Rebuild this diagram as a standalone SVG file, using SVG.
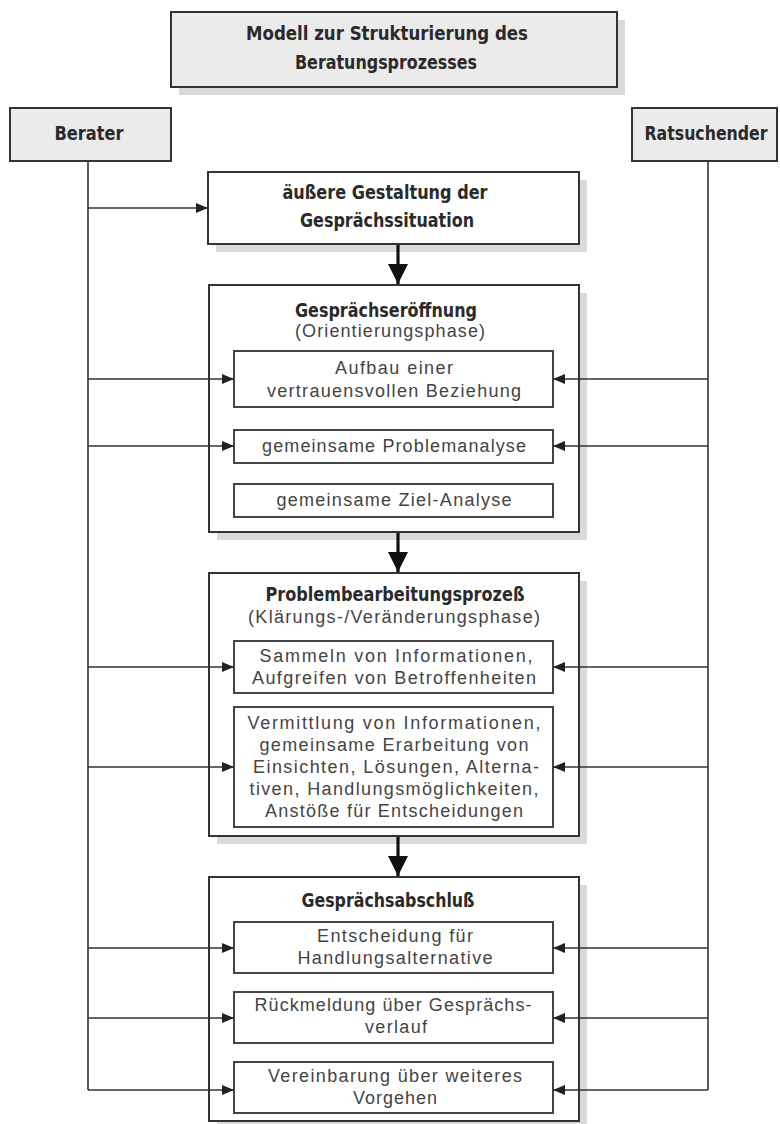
<svg xmlns="http://www.w3.org/2000/svg" width="780" height="1124" viewBox="0 0 780 1124">
<defs>
<style>
.bg{fill:#ffffff}
.shadow{fill:#d9d9d9}
.grey{fill:#ebebeb;stroke:#333;stroke-width:2}
.box{fill:#ffffff;stroke:#333;stroke-width:2}
.inner{fill:#ffffff;stroke:#444;stroke-width:2}
.bold{font-family:"DejaVu Sans Condensed","DejaVu Sans","Liberation Sans",sans-serif;font-weight:bold;font-size:19px;fill:#2a2a2a;text-anchor:middle}
.reg{font-family:"Liberation Sans","Arial",sans-serif;font-size:18px;fill:#444;text-anchor:middle}
.line{stroke:#333;stroke-width:1.6;fill:none}
.thick{stroke:#111;stroke-width:3.2;fill:none}
</style>
<marker id="ah" markerUnits="userSpaceOnUse" markerWidth="12" markerHeight="10" refX="12" refY="5" orient="auto">
<path d="M0,0 L12,5 L0,10 Z" fill="#222"/>
</marker>
<marker id="big" markerUnits="userSpaceOnUse" markerWidth="20" markerHeight="22" refX="20" refY="10" orient="auto">
<path d="M0,0 L20,10 L0,20 Z" fill="#111"/>
</marker>
</defs>
<rect class="bg" x="0" y="0" width="780" height="1124"/>

<g id="title">
<rect class="shadow" x="179" y="20" width="446" height="75"/>
<rect class="grey" x="171" y="12" width="446" height="75"/>
<text class="bold" x="387" y="40" textLength="282" lengthAdjust="spacingAndGlyphs">Modell zur Strukturierung des</text>
<text class="bold" x="386" y="69" textLength="182" lengthAdjust="spacingAndGlyphs">Beratungsprozesses</text>
</g>

<g id="berater">
<rect class="grey" x="10" y="108" width="161" height="53"/>
<text class="bold" x="89" y="140" textLength="69" lengthAdjust="spacingAndGlyphs">Berater</text>
</g>

<g id="ratsuchender">
<rect class="grey" x="632" y="108" width="145" height="53"/>
<text class="bold" x="706" y="140" textLength="123" lengthAdjust="spacingAndGlyphs">Ratsuchender</text>
</g>

<g id="gestaltung">
<rect class="shadow" x="216" y="180" width="371" height="72"/>
<rect class="box" x="208" y="172" width="371" height="72"/>
<text class="bold" x="385" y="199" textLength="205" lengthAdjust="spacingAndGlyphs">äußere Gestaltung der</text>
<text class="bold" x="387" y="227" textLength="174" lengthAdjust="spacingAndGlyphs">Gesprächssituation</text>
</g>

<g id="phase-eroeffnung">
<rect class="shadow" x="217" y="293" width="370" height="247"/>
<rect class="box" x="209" y="285" width="370" height="247"/>
<text class="bold" x="386" y="317" textLength="182" lengthAdjust="spacingAndGlyphs">Gesprächseröffnung</text>
<text class="reg" x="390" y="337" textLength="190">(Orientierungsphase)</text>
<g id="aufbau">
<rect class="inner" x="234" y="351" width="319" height="56"/>
<text class="reg" x="394" y="374" textLength="118">Aufbau einer</text>
<text class="reg" x="394" y="397" textLength="254">vertrauensvollen Beziehung</text>
</g>
<g id="problemanalyse">
<rect class="inner" x="234" y="430" width="319" height="33"/>
<text class="reg" x="394" y="452" textLength="264">gemeinsame Problemanalyse</text>
</g>
<g id="zielanalyse">
<rect class="inner" x="234" y="484" width="319" height="33"/>
<text class="reg" x="394" y="506" textLength="235">gemeinsame Ziel-Analyse</text>
</g>
</g>

<g id="phase-problembearbeitung">
<rect class="shadow" x="217" y="581" width="370" height="263"/>
<rect class="box" x="209" y="573" width="370" height="263"/>
<text class="bold" x="395" y="601" textLength="259" lengthAdjust="spacingAndGlyphs">Problembearbeitungsprozeß</text>
<text class="reg" x="394" y="623" textLength="292">(Klärungs-/Veränderungsphase)</text>
<g id="sammeln">
<rect class="inner" x="234" y="641" width="319" height="52"/>
<text class="reg" x="396" y="662" textLength="273">Sammeln von Informationen,</text>
<text class="reg" x="394" y="684" textLength="284">Aufgreifen von Betroffenheiten</text>
</g>
<g id="vermittlung">
<rect class="inner" x="234" y="707" width="319" height="120"/>
<text class="reg" x="394" y="729" textLength="293">Vermittlung von Informationen,</text>
<text class="reg" x="394" y="751" textLength="269">gemeinsame Erarbeitung von</text>
<text class="reg" x="396" y="773" textLength="286">Einsichten, Lösungen, Alterna-</text>
<text class="reg" x="394" y="795" textLength="289">tiven, Handlungsmöglichkeiten,</text>
<text class="reg" x="394" y="817" textLength="258">Anstöße für Entscheidungen</text>
</g>
</g>

<g id="phase-abschluss">
<rect class="shadow" x="217" y="885" width="370" height="244"/>
<rect class="box" x="209" y="877" width="370" height="244"/>
<text class="bold" x="388" y="907" textLength="173" lengthAdjust="spacingAndGlyphs">Gesprächsabschluß</text>
<g id="entscheidung">
<rect class="inner" x="234" y="922" width="319" height="51"/>
<text class="reg" x="395" y="942" textLength="156">Entscheidung für</text>
<text class="reg" x="395" y="964" textLength="195">Handlungsalternative</text>
</g>
<g id="rueckmeldung">
<rect class="inner" x="234" y="992" width="319" height="51"/>
<text class="reg" x="393" y="1011" textLength="277">Rückmeldung über Gesprächs-</text>
<text class="reg" x="396" y="1033" textLength="62">verlauf</text>
</g>
<g id="vereinbarung">
<rect class="inner" x="234" y="1062" width="319" height="51"/>
<text class="reg" x="395" y="1082" textLength="254">Vereinbarung über weiteres</text>
<text class="reg" x="395" y="1104" textLength="84">Vorgehen</text>
</g>
</g>

<g id="connectors">
<path class="line" d="M88,161 V1090"/>
<path class="line" d="M708,161 V1090"/>
<path class="line" d="M88,208 H208" marker-end="url(#ah)"/>
<path class="line" d="M88,379 H234" marker-end="url(#ah)"/>
<path class="line" d="M88,446 H234" marker-end="url(#ah)"/>
<path class="line" d="M88,667 H234" marker-end="url(#ah)"/>
<path class="line" d="M88,767 H234" marker-end="url(#ah)"/>
<path class="line" d="M88,948 H234" marker-end="url(#ah)"/>
<path class="line" d="M88,1018 H234" marker-end="url(#ah)"/>
<path class="line" d="M88,1090 H234" marker-end="url(#ah)"/>
<path class="line" d="M708,379 H553" marker-end="url(#ah)"/>
<path class="line" d="M708,446 H553" marker-end="url(#ah)"/>
<path class="line" d="M708,667 H553" marker-end="url(#ah)"/>
<path class="line" d="M708,767 H553" marker-end="url(#ah)"/>
<path class="line" d="M708,948 H553" marker-end="url(#ah)"/>
<path class="line" d="M708,1018 H553" marker-end="url(#ah)"/>
<path class="line" d="M708,1090 H553" marker-end="url(#ah)"/>
<path class="thick" d="M398,245 V284" marker-end="url(#big)"/>
<path class="thick" d="M398,533 V572" marker-end="url(#big)"/>
<path class="thick" d="M398,837 V876" marker-end="url(#big)"/>
</g>
</svg>
